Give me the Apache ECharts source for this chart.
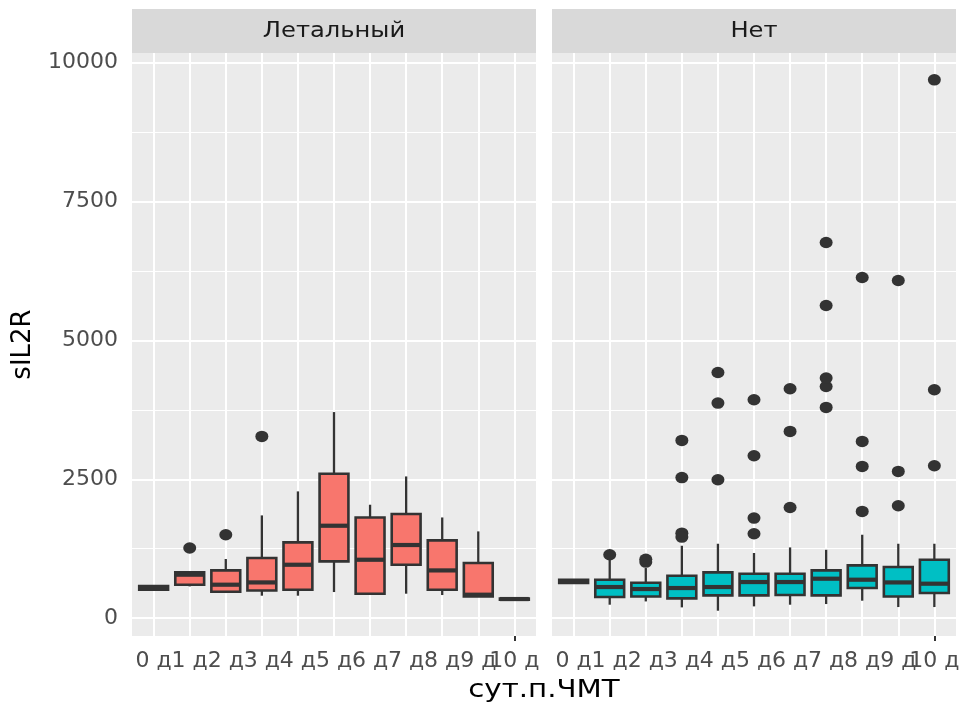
<!DOCTYPE html>
<html><head><meta charset="utf-8">
<script src="https://cdn.jsdelivr.net/npm/echarts@6/dist/echarts.min.js"></script>
<style>html,body{margin:0;padding:0;background:#fff}#c{width:966px;height:709px}</style>
</head><body><div id="c"></div>
<script>
// ---- data ----
const xLabels = ['0 д','1 д','2 д','3 д','4 д','5 д','6 д','7 д','8 д','9 д','10 д'];
const panelNames = ['Летальный', 'Нет'];
const yTicks = [0, 2500, 5000, 7500, 10000];
const yMinor = [1250, 3750, 6250, 8750];
const yTitle = 'sIL2R';
const xTitle = 'сут.п.ЧМТ';
// [min, q1, median, q3, max]
const lethalBoxes = [
  [510, 515, 550, 580, 585],
  [572, 603, 783, 824, 824],
  [453, 477, 603, 860, 1065],
  [405, 500, 644, 1083, 1850],
  [405, 513, 962, 1364, 2282],
  [471, 1022, 1664, 2600, 3709],
  [441, 441, 1052, 1813, 2042],
  [441, 962, 1317, 1875, 2551],
  [417, 513, 860, 1400, 1813],
  [392, 392, 423, 993, 1562],
  [330, 335, 345, 355, 360]
];
// [category index, value]
const lethalOutliers = [[1, 1263], [2, 1502], [3, 3271]];
const aliveBoxes = [
  [630, 635, 662, 690, 695],
  [243, 381, 561, 693, 1052],
  [302, 392, 525, 639, 903],
  [195, 357, 543, 765, 1304],
  [135, 411, 561, 824, 1340],
  [213, 411, 651, 801, 1173],
  [243, 417, 651, 801, 1274],
  [255, 411, 711, 860, 1232],
  [315, 543, 693, 950, 1502],
  [201, 392, 644, 921, 1340],
  [201, 453, 621, 1052, 1340]
];
const aliveOutliers = [
  [1, 1142],
  [2, 1060], [2, 1010],
  [3, 1530], [3, 1460], [3, 2530], [3, 3199],
  [4, 2492], [4, 3871], [4, 4422],
  [5, 1520], [5, 1802], [5, 2923], [5, 3931],
  [6, 1993], [6, 3361], [6, 4129],
  [7, 3793], [7, 4170], [7, 4321], [7, 5627], [7, 6761],
  [8, 1922], [8, 2731], [8, 3181], [8, 6131],
  [9, 2024], [9, 2641], [9, 6077],
  [10, 2743], [10, 4111], [10, 9687]
];

// ---- style ----
const FONT = 'DejaVu Sans';
const EDGE = '#333333';
const FILLS = ['#F8766D', '#00BFC4'];
const BOX_WIDTH = 0.8;
const PANEL_LEFT = [132, 552];
const PANEL_W = 404, PANEL_TOP = 53, PANEL_H = 583;
const Y_MIN = -320, Y_MAX = 10170;

const chart = echarts.init(document.getElementById('c'), null, {renderer: 'canvas'});

function makeRender(fill) {
  return function (params, api) {
    const x = api.value(0);
    const pMin = api.coord([x, api.value(1)]);
    const pQ1 = api.coord([x, api.value(2)]);
    const pMed = api.coord([x, api.value(3)]);
    const pQ3 = api.coord([x, api.value(4)]);
    const pMax = api.coord([x, api.value(5)]);
    const w = api.size([BOX_WIDTH, 0])[0];
    const cx = pMed[0];
    const ls = {stroke: EDGE, lineWidth: 2.3};
    return {
      type: 'group',
      children: [
        {type: 'line', shape: {x1: cx, y1: pMax[1], x2: cx, y2: pQ3[1]}, style: ls},
        {type: 'line', shape: {x1: cx, y1: pQ1[1], x2: cx, y2: pMin[1]}, style: ls},
        {type: 'rect', shape: {x: cx - w / 2, y: pQ3[1], width: w, height: Math.max(pQ1[1] - pQ3[1], 0.1)},
          style: {fill: fill, stroke: EDGE, lineWidth: 2.6}},
        {type: 'line', shape: {x1: cx - w / 2, y1: pMed[1], x2: cx + w / 2, y2: pMed[1]},
          style: {stroke: EDGE, lineWidth: 4.2}}
      ]
    };
  };
}

const xIdx = xLabels.map((_, i) => i);
const xIdxMain = xIdx.slice(0, xIdx.length - 1);
const xIdxLast = xIdx.slice(xIdx.length - 1);

function gridMarkLine() {
  const data = [];
  yMinor.forEach(v => data.push({yAxis: v, lineStyle: {color: '#ffffff', width: 1, type: 'solid'}}));
  yTicks.forEach(v => data.push({yAxis: v, lineStyle: {color: '#ffffff', width: 2, type: 'solid'}}));
  xIdx.forEach(v => data.push({xAxis: v, lineStyle: {color: '#ffffff', width: 2, type: 'solid'}}));
  return {silent: true, symbol: 'none', z: 1, animation: false, label: {show: false},
    emphasis: {disabled: true}, data: data};
}

function xAxisDef(p, values) {
  return {type: 'value', gridIndex: p, min: -0.6, max: 10.6, position: 'bottom',
    axisLine: {show: false}, splitLine: {show: false},
    axisTick: {show: true, length: 5, lineStyle: {color: EDGE, width: 2}, customValues: values},
    axisLabel: {customValues: values, formatter: v => xLabels[Math.round(v)], color: '#4D4D4D',
      fontFamily: FONT, fontSize: 22, margin: 14, hideOverlap: false}};
}

const grids = [], xAxes = [], yAxes = [], series = [], graphics = [];
[lethalBoxes, aliveBoxes].forEach((boxes, p) => {
  grids.push({left: PANEL_LEFT[p], top: PANEL_TOP, width: PANEL_W, height: PANEL_H,
    show: true, backgroundColor: '#EBEBEB', borderWidth: 0, containLabel: false});
  xAxes.push(xAxisDef(p, xIdxMain));
  xAxes.push(xAxisDef(p, xIdxLast));
  yAxes.push({type: 'value', gridIndex: p, min: Y_MIN, max: Y_MAX,
    axisLine: {show: false}, splitLine: {show: false},
    axisTick: {show: p === 0, length: 5, lineStyle: {color: EDGE, width: 2}, customValues: yTicks},
    axisLabel: {show: p === 0, customValues: yTicks, formatter: v => String(v), color: '#4D4D4D',
      fontFamily: FONT, fontSize: 22, margin: 14},
    name: p === 0 ? yTitle : '', nameLocation: 'middle', nameGap: 96, nameRotate: 90,
    nameTextStyle: {color: '#000', fontFamily: FONT, fontSize: 26}});
  series.push({type: 'custom', xAxisIndex: p * 2, yAxisIndex: p, z: 3, clip: false,
    renderItem: makeRender(FILLS[p]), encode: {x: 0, y: [1, 2, 3, 4, 5]},
    data: boxes.map((b, i) => [i].concat(b)), animation: false, silent: true});
  series.push({type: 'scatter', xAxisIndex: p * 2, yAxisIndex: p, z: 4,
    data: p === 0 ? lethalOutliers : aliveOutliers, symbol: 'circle', symbolSize: [13, 11.5],
    itemStyle: {color: EDGE, opacity: 1}, animation: false, silent: true,
    markLine: gridMarkLine()});
  graphics.push({type: 'rect', left: PANEL_LEFT[p], top: 9, shape: {width: PANEL_W, height: 44},
    style: {fill: '#D9D9D9'}, silent: true});
  graphics.push({type: 'text', x: PANEL_LEFT[p] + PANEL_W / 2, y: 31, scaleX: 1.1,
    style: {text: panelNames[p], fill: '#1A1A1A', font: '22px "DejaVu Sans"', textAlign: 'center', textVerticalAlign: 'middle'},
    silent: true});
});
graphics.push({type: 'text', x: (PANEL_LEFT[0] + PANEL_LEFT[1] + PANEL_W) / 2, y: 691, scaleX: 1.22,
  style: {text: xTitle, fill: '#000', font: '24px "DejaVu Sans"', textAlign: 'center', textVerticalAlign: 'middle'},
  silent: true});

chart.setOption({
  backgroundColor: '#ffffff',
  animation: false,
  grid: grids, xAxis: xAxes, yAxis: yAxes, series: series,
  graphic: graphics,
  tooltip: {show: false}
});
</script>
</body></html>
